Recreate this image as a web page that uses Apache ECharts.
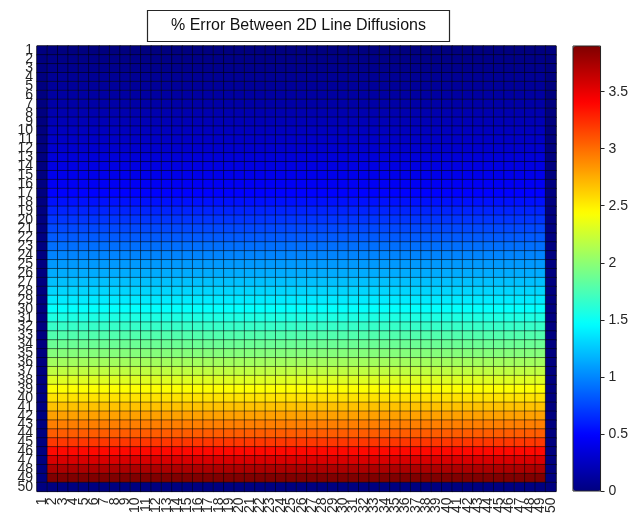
<!DOCTYPE html>
<html>
<head>
<meta charset="utf-8">
<script src="https://cdn.jsdelivr.net/npm/echarts@6/dist/echarts.min.js"></script>
<style>
    html, body { margin: 0; background: #fff; }
    #chart { width: 631px; height: 516px; }
</style>
</head>
<body>
<div id="chart"></div>
<script>
// labels along both axes
const colLabels = ['1','2','3','4','5','6','7','8','9','10','11','12','13','14','15','16','17','18','19','20',
    '21','22','23','24','25','26','27','28','29','30','31','32','33','34','35','36','37','38','39','40',
    '41','42','43','44','45','46','47','48','49','50'];
const rowLabels = colLabels.slice();

// % error read per row (row 1 at top), boundary rows are 0
const rowValues = [0, 0.03, 0.05, 0.08, 0.10, 0.13, 0.15, 0.18, 0.21, 0.24,
    0.27, 0.30, 0.34, 0.38, 0.41, 0.45, 0.49, 0.55, 0.62, 0.69,
    0.76, 0.83, 0.91, 0.99, 1.07, 1.14, 1.22, 1.30, 1.38, 1.47,
    1.57, 1.67, 1.77, 1.87, 1.97, 2.08, 2.19, 2.31, 2.43, 2.55,
    2.67, 2.80, 2.93, 3.06, 3.20, 3.38, 3.56, 3.73, 3.90, 0];
// columns: left and right boundary columns are 0
const colFactor = [0, 1, 1, 1, 1, 1, 1, 1, 1, 1, 1, 1, 1, 1, 1, 1, 1, 1, 1, 1, 1, 1, 1, 1, 1,
    1, 1, 1, 1, 1, 1, 1, 1, 1, 1, 1, 1, 1, 1, 1, 1, 1, 1, 1, 1, 1, 1, 1, 1, 0];

const cbarTicks = [0, 0.5, 1, 1.5, 2, 2.5, 3, 3.5];
const cbarMax = 3.9;
// matlab jet
const jet = ['#000080', '#0000ff', '#0080ff', '#00ffff', '#80ff80', '#ffff00', '#ff8000', '#ff0000', '#800000'];

const cells = [];
rowValues.forEach((v, r) => {
    colFactor.forEach((f, c) => {
        cells.push([c, r, +(v * f).toFixed(3)]);
    });
});

const txt = { fontFamily: 'Liberation Sans, Arial, sans-serif', fontSize: 14, color: '#262626' };

const myChart = echarts.init(document.getElementById('chart'));
myChart.setOption({
    animation: false,
    title: {
        text: '% Error Between 2D Line Diffusions',
        left: 147,
        top: 10,
        padding: [8, 24],
        borderColor: '#262626',
        borderWidth: 1.2,
        backgroundColor: '#fff',
        textStyle: { fontFamily: 'Liberation Sans, Arial, sans-serif', fontSize: 16, fontWeight: 'normal', color: '#111' }
    },
    grid: [
        { left: 37, top: 46, width: 519, height: 446, show: true, borderColor: '#262626', borderWidth: 1 },
        { left: 573, top: 46, width: 28, height: 445, show: true, borderColor: '#262626', borderWidth: 1, z: 10 }
    ],
    xAxis: [
        {
            type: 'category', gridIndex: 0, data: colLabels,
            axisLine: { show: false }, axisTick: { show: false },
            axisLabel: Object.assign({ interval: 0, rotate: 90, margin: 6 }, txt)
        },
        { type: 'category', gridIndex: 1, data: [''], show: false }
    ],
    yAxis: [
        {
            type: 'category', gridIndex: 0, data: rowLabels, inverse: true,
            axisLine: { show: false }, axisTick: { show: false },
            axisLabel: Object.assign({ interval: 0, margin: 4 }, txt)
        },
        {
            type: 'value', gridIndex: 1, min: 0, max: cbarMax, position: 'right', z: 10,
            axisLine: { show: false }, splitLine: { show: false },
            axisTick: { show: true, length: 4, customValues: cbarTicks, lineStyle: { color: '#262626' } },
            axisLabel: Object.assign({ margin: 8, customValues: cbarTicks }, txt)
        }
    ],
    visualMap: {
        type: 'continuous',
        min: 0,
        max: cbarMax,
        seriesIndex: 0,
        calculable: false,
        hoverLink: false,
        orient: 'vertical',
        itemWidth: 28,
        itemHeight: 445,
        left: 558,
        top: 31,
        inRange: { color: jet }
    },
    series: [{
        type: 'heatmap',
        xAxisIndex: 0,
        yAxisIndex: 0,
        data: cells,
        progressive: 0,
        itemStyle: { borderColor: 'rgba(0,0,0,0.5)', borderWidth: 1 },
        emphasis: { disabled: true }
    }]
});
</script>
</body>
</html>
